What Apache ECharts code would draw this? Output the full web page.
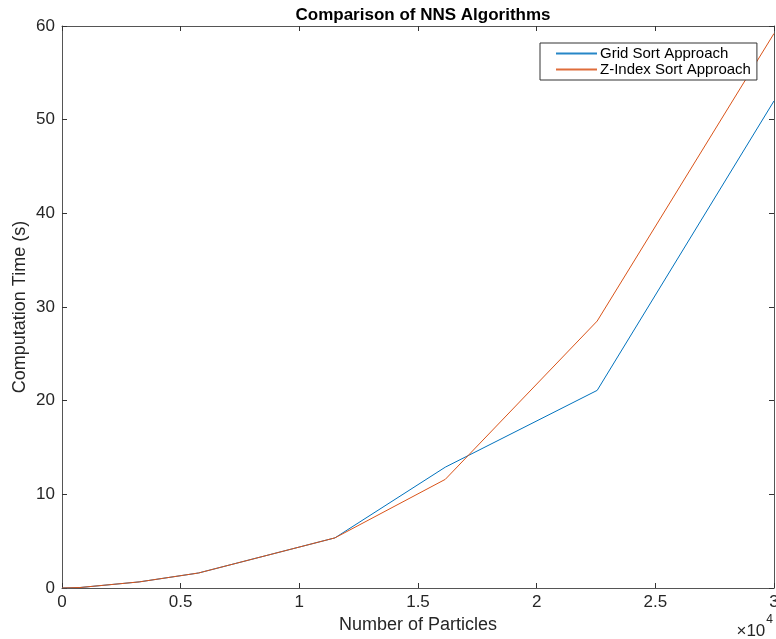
<!DOCTYPE html>
<html>
<head>
<meta charset="utf-8">
<script src="https://cdn.jsdelivr.net/npm/echarts@6/dist/echarts.min.js"></script>
<style>
  html, body { margin: 0; padding: 0; background: #fff; }
  #chart { width: 776px; height: 639px; }
</style>
</head>
<body>
<div id="chart"></div>
<script>
// Particle counts and measured computation times (seconds)
const particles = [0, 750, 3250, 5750, 11500, 16150, 22550, 30000];
const gridSortTimes = [0, 0.05, 0.65, 1.6, 5.35, 12.9, 21.1, 52.0];
const zIndexSortTimes = [0, 0.05, 0.65, 1.6, 5.35, 11.6, 28.5, 59.2];
const seriesNames = ['Grid Sort Approach', 'Z-Index Sort Approach'];
const seriesColors = ['#0072BD', '#D95319'];
const xTickValues = [0, 5000, 10000, 15000, 20000, 25000, 30000];
const yTickValues = [0, 10, 20, 30, 40, 50, 60];

const FONT = '"Liberation Sans", Arial, Helvetica, sans-serif';
const AXIS_COLOR = '#555555';
const TEXT_COLOR = '#262626';

function pairs(xs, ys) {
  return xs.map((x, i) => [x, ys[i]]);
}

const chart = echarts.init(document.getElementById('chart'), null, { renderer: 'canvas' });

const baseAxis = {
  axisLine: { show: true, onZero: false, lineStyle: { color: AXIS_COLOR, width: 1 } },
  axisTick: { show: true, inside: true, length: 5, lineStyle: { color: '#333333', width: 1 } },
  splitLine: { show: false }
};

chart.setOption({
  animation: false,
  backgroundColor: '#ffffff',
  title: {
    text: 'Comparison of NNS Algorithms',
    left: 418,
    textAlign: 'center',
    top: 2,
    textStyle: { fontFamily: FONT, fontSize: 17, fontWeight: 'bold', color: '#000' }
  },
  grid: { left: 62, right: 2, top: 26, bottom: 51, containLabel: false, outerBoundsMode: 'none' },
  legend: {
    orient: 'vertical',
    left: 540,
    top: 43,
    padding: [3, 6, 3, 16],
    itemGap: 1,
    itemWidth: 41,
    itemHeight: 2,
    icon: 'rect',
    backgroundColor: '#ffffff',
    borderColor: '#333333',
    borderWidth: 1,
    textStyle: { fontFamily: FONT, fontSize: 15, color: '#000', padding: [0, 0, 0, -2] },
    data: seriesNames.map((name, i) => ({
      name: name,
      itemStyle: { color: seriesColors[i], borderWidth: 0, opacity: 0.85 }
    }))
  },
  xAxis: [
    Object.assign({}, baseAxis, {
      type: 'value',
      position: 'bottom',
      min: 0,
      max: 30000,
      interval: 5000,
      name: 'Number of Particles',
      nameLocation: 'middle',
      nameGap: 25,
      nameTextStyle: { fontFamily: FONT, fontSize: 18, color: TEXT_COLOR },
      axisLabel: {
        fontFamily: FONT, fontSize: 17, color: TEXT_COLOR, margin: 6,
        formatter: v => xTickValues.includes(v) ? String(v / 10000) : ''
      }
    }),
    Object.assign({}, baseAxis, {
      type: 'value',
      position: 'top',
      min: 0,
      max: 30000,
      interval: 5000,
      axisLabel: { show: false }
    })
  ],
  yAxis: [
    Object.assign({}, baseAxis, {
      type: 'value',
      position: 'left',
      min: 0,
      max: 60,
      interval: 10,
      name: 'Computation Time (s)',
      nameLocation: 'middle',
      nameRotate: 90,
      nameGap: 33,
      nameMoveOverlap: false,
      nameTextStyle: { fontFamily: FONT, fontSize: 18, color: TEXT_COLOR },
      axisLabel: {
        fontFamily: FONT, fontSize: 17, color: TEXT_COLOR, margin: 7,
        formatter: v => yTickValues.includes(v) ? String(v) : ''
      }
    }),
    Object.assign({}, baseAxis, {
      type: 'value',
      position: 'right',
      min: 0,
      max: 60,
      interval: 10,
      axisLabel: { show: false }
    })
  ],
  series: [
    {
      name: seriesNames[0],
      type: 'line',
      symbol: 'none',
      data: pairs(particles, gridSortTimes),
      lineStyle: { color: seriesColors[0], width: 1 },
      itemStyle: { color: seriesColors[0] },
      z: 2
    },
    {
      name: seriesNames[1],
      type: 'line',
      symbol: 'none',
      data: pairs(particles, zIndexSortTimes),
      lineStyle: { color: seriesColors[1], width: 1 },
      itemStyle: { color: seriesColors[1] },
      z: 3
    }
  ],
  graphic: [
    {
      type: 'text',
      right: 3,
      top: 614,
      style: {
        text: '{m|\u00d710}{s|4}',
        rich: {
          m: { fontFamily: FONT, fontSize: 17, fill: TEXT_COLOR, padding: [9, 0, 0, 0] },
          s: { fontFamily: FONT, fontSize: 12, fill: TEXT_COLOR, verticalAlign: 'top', padding: [0, 0, 7, 1] }
        }
      }
    }
  ]
});
</script>
</body>
</html>
